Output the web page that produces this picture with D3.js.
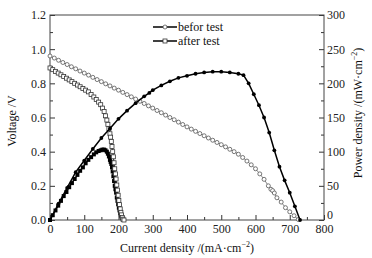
<!DOCTYPE html>
<html>
<head>
<meta charset="utf-8">
<script src="https://cdn.jsdelivr.net/npm/d3@7"></script>
<style>
  body { margin: 0; background: #fff; }
  svg { display: block; }
</style>
</head>
<body>
<svg></svg>
<script>
// before test: voltage (open circles)
var beforeVI = [0, 12.5, 25, 37.5, 50, 62.5, 75, 87.5, 100, 112.5, 125, 137.5, 150, 162.5, 175, 187.5,
    200, 212.5, 225, 237.5, 250, 262.5, 275, 287.5, 300, 312.5, 325, 337.5, 350, 362.5, 375, 387.5,
    400, 412.5, 425, 437.5, 450, 462.5, 475, 487.5, 500, 512.5, 525, 537.5, 550, 562.5, 575, 587.5,
    600, 612.5, 625, 637.5, 645, 650, 655, 662.5, 675, 687.5, 700, 712.5, 725]
var beforeV = [0.960, 0.948, 0.935, 0.922, 0.910, 0.897, 0.885, 0.872, 0.860, 0.848, 0.835, 0.822, 0.810, 0.797, 0.785, 0.772,
    0.760, 0.747, 0.734, 0.721, 0.708, 0.695, 0.682, 0.668, 0.655, 0.641, 0.628, 0.614, 0.600, 0.587, 0.573, 0.559,
    0.545, 0.532, 0.519, 0.506, 0.493, 0.480, 0.467, 0.454, 0.441, 0.428, 0.414, 0.400, 0.385, 0.366, 0.345, 0.323,
    0.300, 0.270, 0.238, 0.200, 0.180, 0.172, 0.158, 0.130, 0.105, 0.072, 0.048, 0.025, 0.003]

// before test: power density (filled dots)
var beforePI = [0, 25, 50, 75, 100, 125, 150, 175, 200, 225, 250, 275, 290, 300, 325, 350, 375, 400, 425, 450, 475,
    500, 525, 550, 565, 580, 595, 610, 625, 640, 655, 670, 685, 700, 715, 730]
var beforeP = [0, 24, 47, 70, 87, 104, 120, 134, 148, 160, 171, 181, 186, 190, 197, 203, 208, 211, 214, 216, 217,
    217, 216, 214, 212, 200, 184, 168, 150, 128, 102, 78, 58, 40, 20, 0]

// after test: voltage (open squares) and power density (filled squares)
var afterI = [0, 8, 16, 24, 32, 40, 48, 56, 64, 72, 80, 88, 96, 104, 112, 120, 128, 135, 142, 148, 153, 158, 162,
    166, 169, 172, 175, 177, 179, 181, 183, 185, 187, 189, 191, 193, 195, 197, 199, 201, 203, 205, 207, 209, 211, 213, 216]
var afterV = [0.89, 0.88, 0.87, 0.86, 0.85, 0.84, 0.83, 0.82, 0.81, 0.80, 0.79, 0.78, 0.77, 0.76, 0.75, 0.735,
    0.72, 0.705, 0.69, 0.675, 0.655, 0.635, 0.61, 0.585, 0.56, 0.535, 0.505, 0.485, 0.46, 0.43, 0.40, 0.37, 0.335,
    0.30, 0.27, 0.24, 0.205, 0.175, 0.145, 0.115, 0.09, 0.065, 0.045, 0.03, 0.015, 0.005, 0.0]
var afterP = [0, 7, 14, 21, 28, 35, 41, 48, 54, 60, 66, 72, 77, 83, 88, 92, 96, 99, 101, 102, 103, 103, 102,
    100, 97, 93, 88, 85, 82, 77, 71, 64, 57, 50, 45, 40, 33, 28, 23, 18, 14, 10, 7, 5, 3, 1, 0]

var legendLabels = ['befor test', 'after test']
var xTicks = [0, 100, 200, 300, 400, 500, 600, 700, 800]
var vTicks = [0.0, 0.2, 0.4, 0.6, 0.8, 1.0, 1.2]
var pTicks = [0, 50, 100, 150, 200, 250, 300]

const svgWidth = 372, svgHeight = 258;
var margin = { top: 15, right: 48, bottom: 38, left: 50 };
var width = svgWidth - margin.left - margin.right;
var height = svgHeight - margin.top - margin.bottom;

var svg = d3.select('svg')
    .attr('width', svgWidth)
    .attr('height', svgHeight)
    .style('font-family', '"Liberation Serif", "Times New Roman", serif');

var g = svg.append('g')
    .attr('transform', 'translate(' + margin.left + ',' + margin.top + ')');

var x = d3.scaleLinear().domain([0, 800]).range([0, width]);
var yV = d3.scaleLinear().domain([0, 1.2]).range([height, 0]);
var yP = d3.scaleLinear().domain([0, 300]).range([height, 0]);

// minor ticks (inward)
function minor(axis) { return axis.tickFormat('').tickSize(-3); }
g.append('g').attr('class', 'ax').attr('transform', 'translate(0,' + height + ')')
    .call(minor(d3.axisBottom(x).tickValues(d3.range(50, 800, 100))));
g.append('g').attr('class', 'ax')
    .call(minor(d3.axisLeft(yV).tickValues(d3.range(0.1, 1.2, 0.2))));
g.append('g').attr('class', 'ax').attr('transform', 'translate(' + width + ',0)')
    .call(minor(d3.axisRight(yP).tickValues(d3.range(25, 300, 50))));

// major ticks
g.append('g').attr('class', 'ax').attr('transform', 'translate(0,' + height + ')')
    .call(d3.axisBottom(x).tickValues(xTicks).tickSizeInner(-5).tickSizeOuter(0).tickPadding(4).tickFormat(d3.format('d')));
g.append('g').attr('class', 'ax')
    .call(d3.axisLeft(yV).tickValues(vTicks).tickSizeInner(-5).tickSizeOuter(0).tickPadding(4).tickFormat(d3.format('.1f')));
var pAxis = g.append('g').attr('class', 'ax').attr('transform', 'translate(' + width + ',0)')
    .call(d3.axisRight(yP).tickValues(pTicks).tickSizeInner(-5).tickSizeOuter(0).tickPadding(3).tickFormat(d3.format('d')));

g.selectAll('.ax .domain').remove();
g.selectAll('.ax line').attr('stroke', '#333');
g.selectAll('.ax text').attr('font-size', 12).attr('fill', '#222')
    .style('font-family', '"Liberation Serif", serif');
// lift the right-hand "0" a little off the "800"
pAxis.selectAll('.tick').filter(d => d === 0).select('text').attr('dy', '-0.1em');

// frame
g.append('rect')
    .attr('width', width).attr('height', height)
    .attr('fill', 'none').attr('stroke', '#444').attr('stroke-width', 1);

var bV = beforeVI.map((d, i) => ({ i: d, v: beforeV[i] }));
var bP = beforePI.map((d, i) => ({ i: d, v: beforeP[i] }));
var aV = afterI.map((d, i) => ({ i: d, v: afterV[i] }));
var aP = afterI.map((d, i) => ({ i: d, v: afterP[i] }));

var lineV = d3.line().x(d => x(d.i)).y(d => yV(d.v));
var lineP = d3.line().x(d => x(d.i)).y(d => yP(d.v));

// after test power
g.append('path').datum(aP).attr('d', lineP).attr('fill', 'none').attr('stroke', '#000').attr('stroke-width', 1.2);
g.selectAll('.aps').data(aP).enter().append('rect')
    .attr('x', d => x(d.i) - 2).attr('y', d => yP(d.v) - 2)
    .attr('width', 4).attr('height', 4).attr('fill', '#000');

// after test voltage
g.append('path').datum(aV).attr('d', lineV).attr('fill', 'none').attr('stroke', '#222').attr('stroke-width', 1);
g.selectAll('.avs').data(aV).enter().append('rect')
    .attr('x', d => x(d.i) - 2).attr('y', d => yV(d.v) - 2)
    .attr('width', 4).attr('height', 4)
    .attr('fill', '#fff').attr('stroke', '#333').attr('stroke-width', 0.8);

// before test voltage
g.append('path').datum(bV).attr('d', lineV).attr('fill', 'none').attr('stroke', '#666').attr('stroke-width', 0.8);
g.selectAll('.bvc').data(bV).enter().append('circle')
    .attr('cx', d => x(d.i)).attr('cy', d => yV(d.v)).attr('r', 2)
    .attr('fill', '#fff').attr('stroke', '#555').attr('stroke-width', 0.8);

// before test power
g.append('path').datum(bP).attr('d', lineP).attr('fill', 'none').attr('stroke', '#000').attr('stroke-width', 1.5);
g.selectAll('.bpc').data(bP).enter().append('circle')
    .attr('cx', d => x(d.i)).attr('cy', d => yP(d.v)).attr('r', 1.9)
    .attr('fill', '#000');

// legend
var leg = svg.append('g').attr('transform', 'translate(153,27)');
legendLabels.forEach(function(t, k) {
    var row = leg.append('g').attr('transform', 'translate(0,' + (k * 14) + ')');
    row.append('line').attr('x1', 0).attr('x2', 24).attr('stroke', '#000').attr('stroke-width', 1.5);
    if (k === 0) {
        row.append('circle').attr('cx', 12).attr('r', 2).attr('fill', '#fff').attr('stroke', '#555').attr('stroke-width', 0.8);
    } else {
        row.append('rect').attr('x', 10).attr('y', -2).attr('width', 4).attr('height', 4)
            .attr('fill', '#fff').attr('stroke', '#333').attr('stroke-width', 0.8);
    }
    row.append('text').attr('x', 25).attr('y', 4).attr('font-size', 12).attr('fill', '#111').text(t);
});

// axis titles
var xt = svg.append('text').attr('x', margin.left + width / 2).attr('y', 252)
    .attr('text-anchor', 'middle').attr('font-size', 12).attr('fill', '#111');
xt.append('tspan').text('Current density /(mA\u00b7cm');
xt.append('tspan').attr('dy', -5).attr('font-size', 8).text('\u22122');
xt.append('tspan').attr('dy', 5).text(')');

svg.append('text').attr('transform', 'translate(16,121) rotate(-90)')
    .attr('text-anchor', 'middle').attr('font-size', 12).attr('fill', '#111').text('Voltage /V');

var yt = svg.append('text').attr('transform', 'translate(362,113) rotate(-90)')
    .attr('text-anchor', 'middle').attr('font-size', 12).attr('fill', '#111');
yt.append('tspan').text('Power density /(mW\u00b7cm');
yt.append('tspan').attr('dy', -5).attr('font-size', 8).text('\u22122');
yt.append('tspan').attr('dy', 5).text(')');
</script>
</body>
</html>
